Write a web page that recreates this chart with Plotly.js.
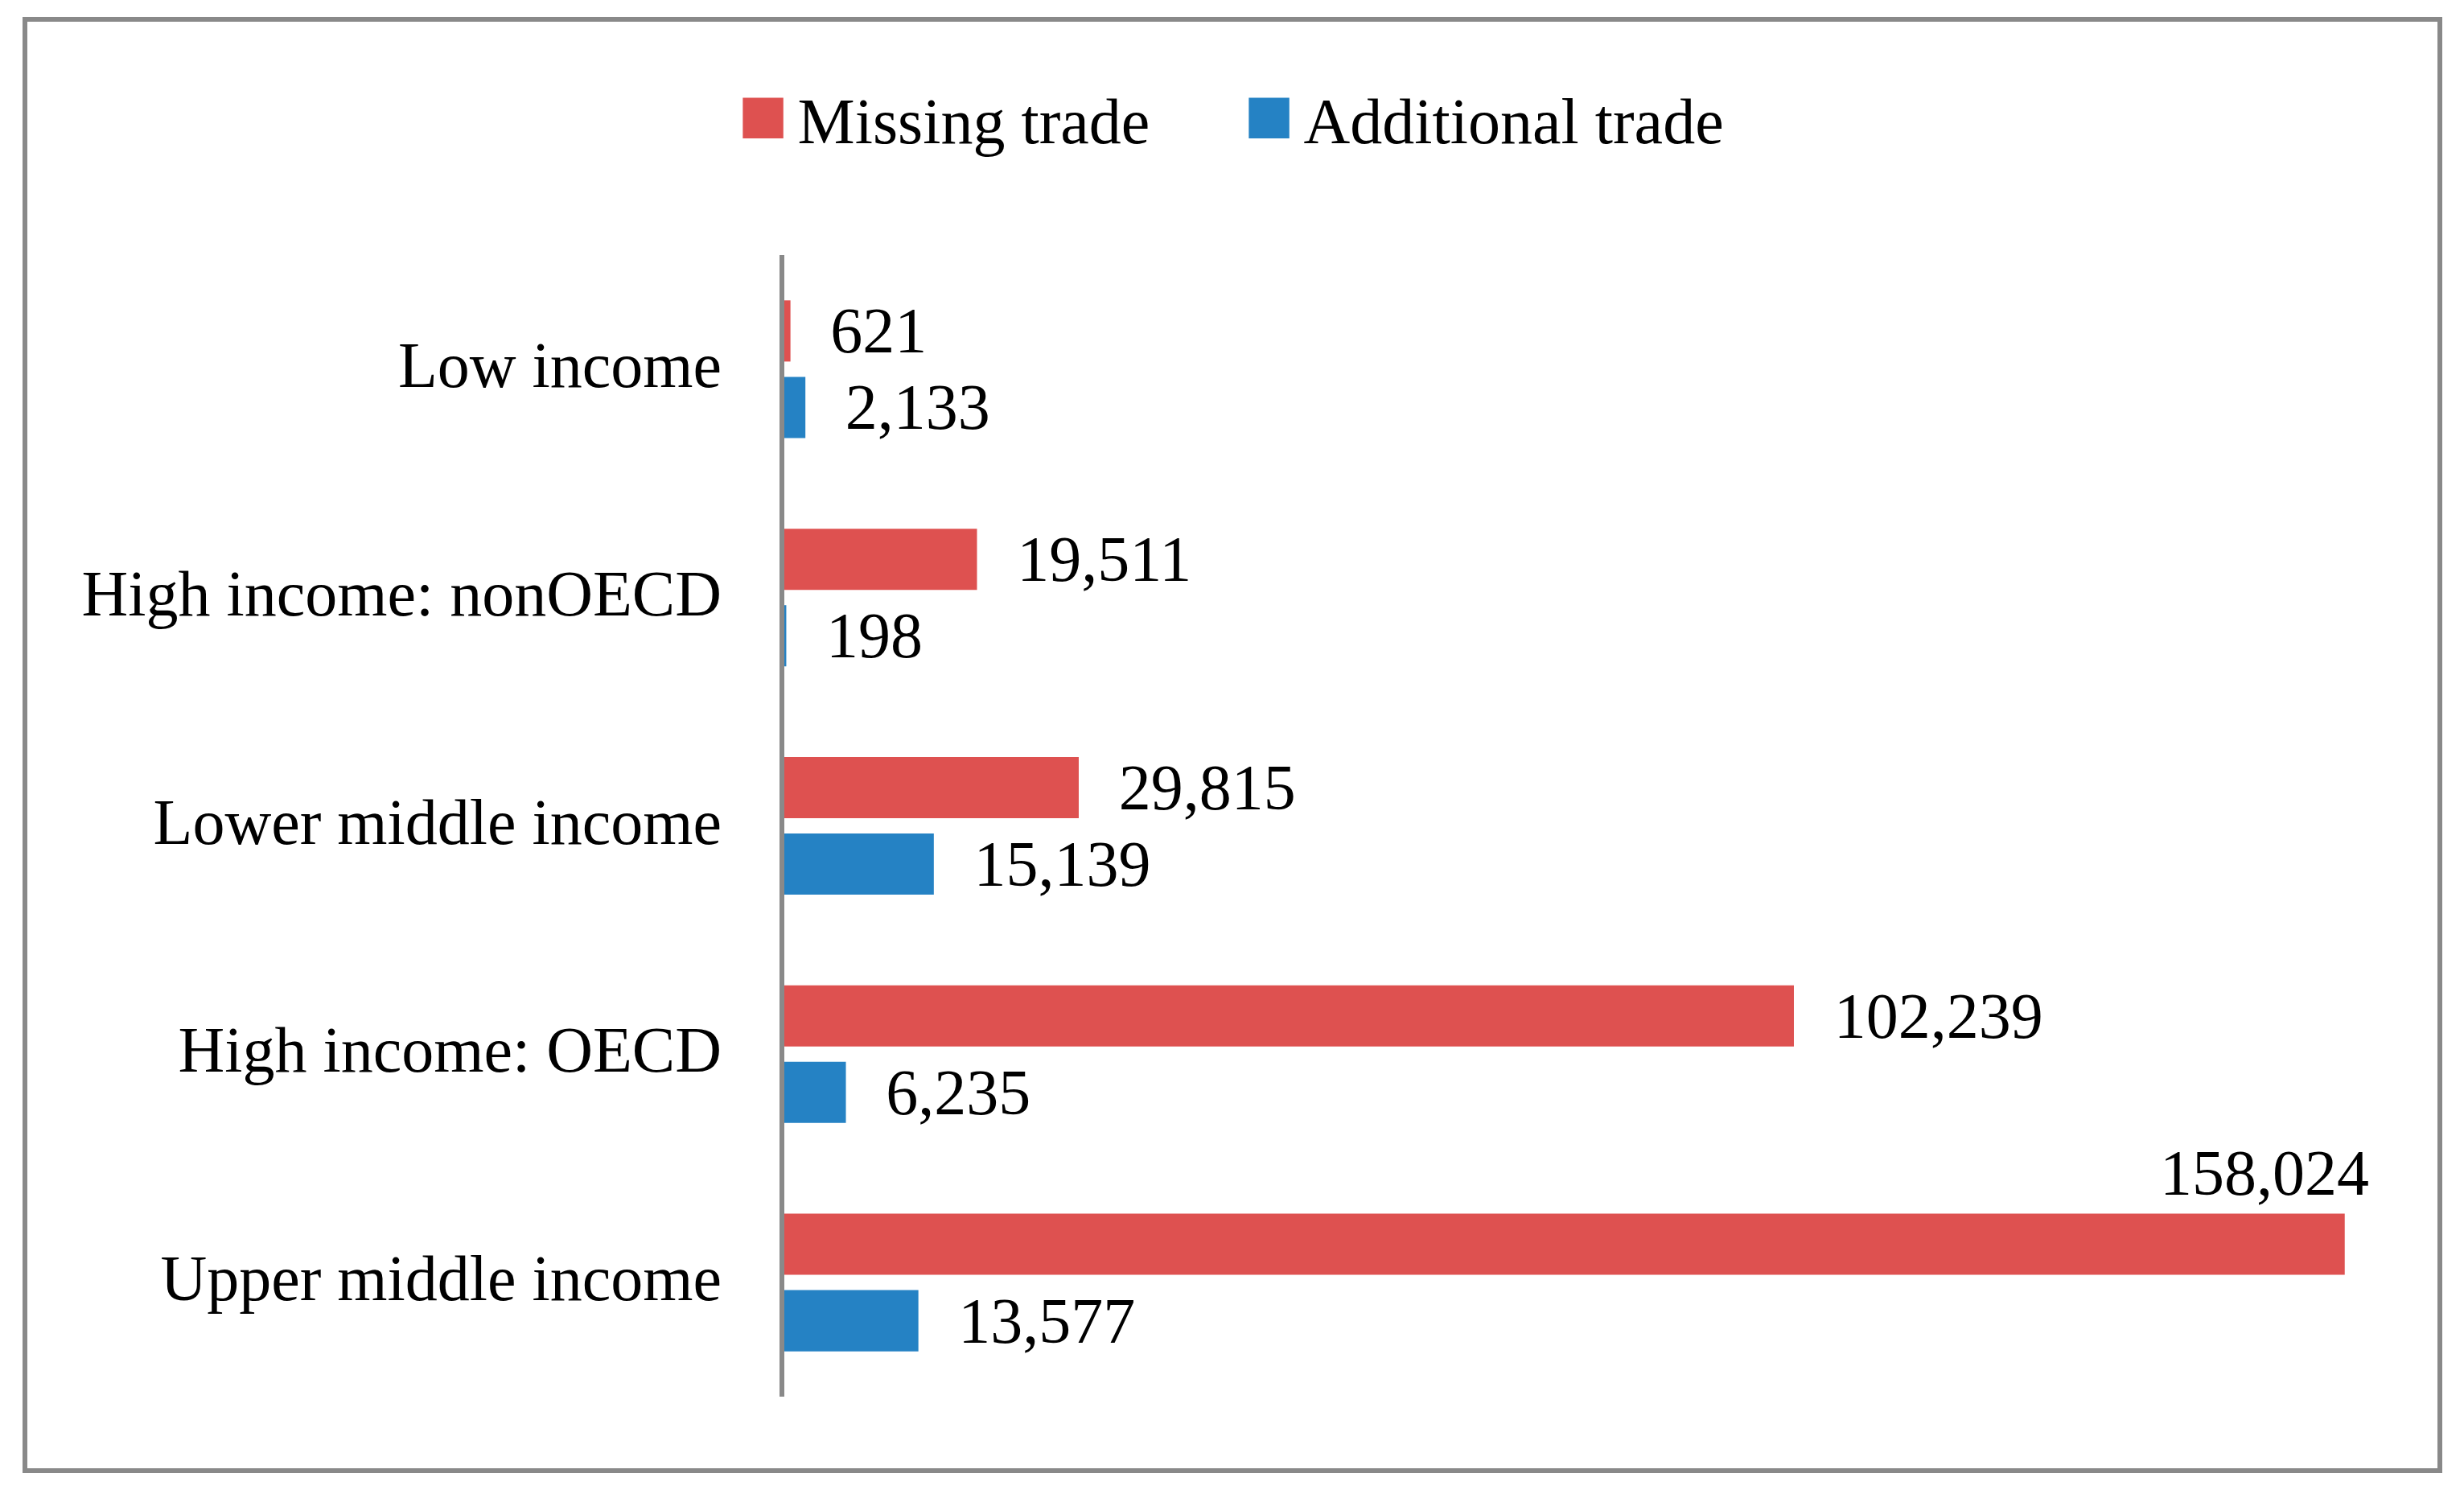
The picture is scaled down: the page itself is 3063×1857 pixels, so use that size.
<!DOCTYPE html>
<html>
<head>
<meta charset="utf-8">
<script src="https://cdn.plot.ly/plotly-3.0.1.min.js"></script>
<style>
  html, body { margin: 0; padding: 0; background: #fff; }
</style>
</head>
<body>
<div id="myPlot" style="width:3063px;height:1857px;"></div>
<script>
// categories top to bottom
let categories = ['Low income', 'High income: nonOECD', 'Lower middle income', 'High income: OECD', 'Upper middle income'];
let missingTrade = [621, 19511, 29815, 102239, 158024];
let additionalTrade = [2133, 198, 15139, 6235, 13577];

let red = 'rgb(222,81,80)';
let blue = 'rgb(37,130,196)';
let fontFam = 'Liberation Serif, Times New Roman, serif';
let fs = 80;

function fmt(v) {
  return '\u2002\u200a' + v.toLocaleString('en-US');
}

// the biggest red bar gets its label above the bar, like the original
let maxMissing = Math.max.apply(null, missingTrade);
let maxIdx = missingTrade.indexOf(maxMissing);

var trace1 = {
  type: 'bar',
  orientation: 'h',
  name: 'Missing trade',
  y: categories,
  x: missingTrade,
  text: missingTrade.map(fmt),
  textposition: missingTrade.map(function(v, i) { return i === maxIdx ? 'none' : 'outside'; }),
  textfont: { family: fontFam, size: fs, color: '#000' },
  constraintext: 'none',
  cliponaxis: false,
  marker: { color: red },
  hoverinfo: 'x+y'
};
var trace2 = {
  type: 'bar',
  orientation: 'h',
  name: 'Additional trade',
  y: categories,
  x: additionalTrade,
  text: additionalTrade.map(fmt),
  textposition: 'outside',
  textfont: { family: fontFam, size: fs, color: '#000' },
  constraintext: 'none',
  cliponaxis: false,
  marker: { color: blue },
  hoverinfo: 'x+y'
};

var data = [trace1, trace2];

var layout = {
  width: 3063,
  height: 1857,
  paper_bgcolor: '#fff',
  plot_bgcolor: '#fff',
  font: { family: fontFam, size: fs, color: '#000' },
  margin: { l: 975, r: 124, t: 317, b: 121, pad: 0 },
  barmode: 'group',
  bargap: 0.33,
  bargroupgap: 0.2,
  showlegend: true,
  legend: {
    orientation: 'h',
    xref: 'container',
    yref: 'container',
    x: 0.501,
    xanchor: 'center',
    y: 0.921,
    yanchor: 'middle',
    font: { family: fontFam, size: fs, color: '#000' },
    itemwidth: 76,
    entrywidth: 538,
    traceorder: 'normal'
  },
  xaxis: {
    range: [0, 160000],
    visible: false,
    showgrid: false,
    zeroline: false
  },
  yaxis: {
    range: [4.5, -0.5],
    autorange: false,
    showline: true,
    linecolor: '#898989',
    linewidth: 6,
    ticks: '',
    ticklabelstandoff: 56,
    ticklabelshift: 6,
    showgrid: false,
    tickfont: { family: fontFam, size: fs, color: '#000' }
  },
  annotations: [{
    x: maxMissing,
    y: categories[maxIdx],
    xref: 'x',
    yref: 'y',
    text: maxMissing.toLocaleString('en-US'),
    showarrow: false,
    xanchor: 'right',
    yanchor: 'middle',
    xshift: 32,
    yshift: 136,
    font: { family: fontFam, size: fs, color: '#000' }
  }],
  shapes: [{
    type: 'rect',
    xref: 'paper',
    yref: 'paper',
    x0: (31 - 975) / 1964,
    x1: (3033 - 975) / 1964,
    y0: (1736 - 1828) / 1419,
    y1: (1736 - 24) / 1419,
    line: { color: '#898989', width: 6 },
    fillcolor: 'rgba(0,0,0,0)',
    layer: 'above'
  }]
};

Plotly.newPlot('myPlot', data, layout, { displayModeBar: false, staticPlot: true }).then(function() {
  // bigger legend squares
  document.querySelectorAll('.legend .legendpoints path').forEach(function(p) {
    var t = p.getAttribute('transform') || '';
    p.setAttribute('transform', t + ' scale(4.2)');
  });
});
</script>
</body>
</html>
